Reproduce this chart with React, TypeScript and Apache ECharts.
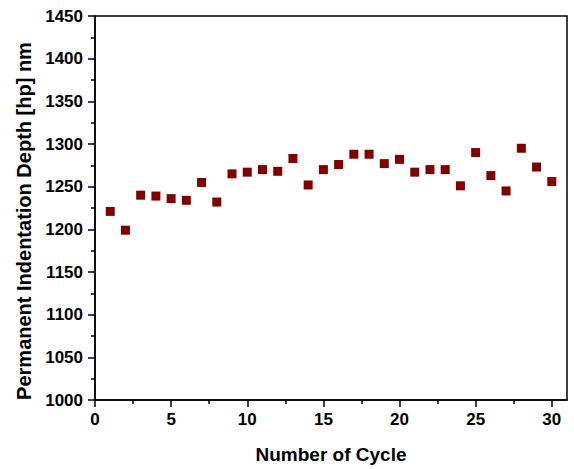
import React, { useEffect, useRef } from "react";
import * as echarts from "echarts";

const cycles = [1, 2, 3, 4, 5, 6, 7, 8, 9, 10, 11, 12, 13, 14, 15, 16, 17, 18, 19, 20, 21, 22, 23, 24, 25, 26, 27, 28, 29, 30];
const depths = [1221, 1199, 1240, 1239, 1236, 1234, 1255, 1232, 1265, 1267, 1270, 1268, 1283, 1252, 1270, 1276, 1288, 1288, 1277, 1282, 1267, 1270, 1270, 1251, 1290, 1263, 1245, 1295, 1273, 1256];
const xMajorTicks = [0, 5, 10, 15, 20, 25, 30];
const xMinorTicks = [2.5, 7.5, 12.5, 17.5, 22.5, 27.5];

const FONT = "'Liberation Sans', Arial, sans-serif";

export default function App() {
  const ref = useRef<HTMLDivElement>(null);
  useEffect(() => {
    if (!ref.current) return;
    const chart = echarts.init(ref.current, null, { renderer: "svg" });
    chart.setOption({
      animation: false,
      grid: {
        left: 95,
        top: 16,
        right: 7,
        bottom: 68,
        show: true,
        borderColor: "#000",
        borderWidth: 1.5,
        backgroundColor: "transparent",
      },
      xAxis: [
        {
          type: "value",
          min: 0,
          max: 31,
          interval: 5,
          position: "bottom",
          name: "Number of Cycle",
          nameLocation: "middle",
          nameGap: 45,
          nameTextStyle: { fontFamily: FONT, fontWeight: "bold", fontSize: 19, color: "#000" },
          axisLine: { show: true, lineStyle: { color: "#000", width: 1.5 } },
          axisTick: { show: true, length: 7, customValues: xMajorTicks, lineStyle: { color: "#000", width: 1.5 } },
          axisLabel: {
            customValues: xMajorTicks,
            margin: 11,
            fontFamily: FONT,
            fontWeight: "bold",
            fontSize: 17,
            color: "#000",
            formatter: (v: number) => String(v),
          },
          splitLine: { show: false },
        },
        {
          type: "value",
          min: 0,
          max: 31,
          position: "bottom",
          axisLine: { show: false },
          axisTick: { show: true, length: 4, customValues: xMinorTicks, lineStyle: { color: "#000", width: 1.5 } },
          axisLabel: { show: false },
          splitLine: { show: false },
        },
      ],
      yAxis: {
        type: "value",
        min: 1000,
        max: 1450,
        interval: 50,
        name: "Permanent Indentation Depth [hp] nm",
        nameLocation: "middle",
        nameGap: 60,
        nameTextStyle: { fontFamily: FONT, fontWeight: "bold", fontSize: 20, color: "#000", padding: [0, 26, 0, 0] },
        axisLine: { show: true, lineStyle: { color: "#000", width: 1.5 } },
        axisTick: { show: true, length: 7, lineStyle: { color: "#000", width: 1.5 } },
        minorTick: { show: true, splitNumber: 2, length: 4, lineStyle: { color: "#000", width: 1.5 } },
        axisLabel: {
          margin: 12,
          fontFamily: FONT,
          fontWeight: "bold",
          fontSize: 17,
          color: "#000",
          formatter: (v: number) => String(v),
        },
        splitLine: { show: false },
      },
      series: [
        {
          type: "scatter",
          xAxisIndex: 0,
          symbol: "rect",
          symbolSize: 9,
          itemStyle: { color: "#800000", opacity: 1 },
          data: cycles.map((c, i) => [c, depths[i]]),
        },
      ],
    });
    return () => chart.dispose();
  }, []);
  return <div ref={ref} style={{ position: "absolute", left: 0, top: 0, width: 574, height: 469 }} />;
}
